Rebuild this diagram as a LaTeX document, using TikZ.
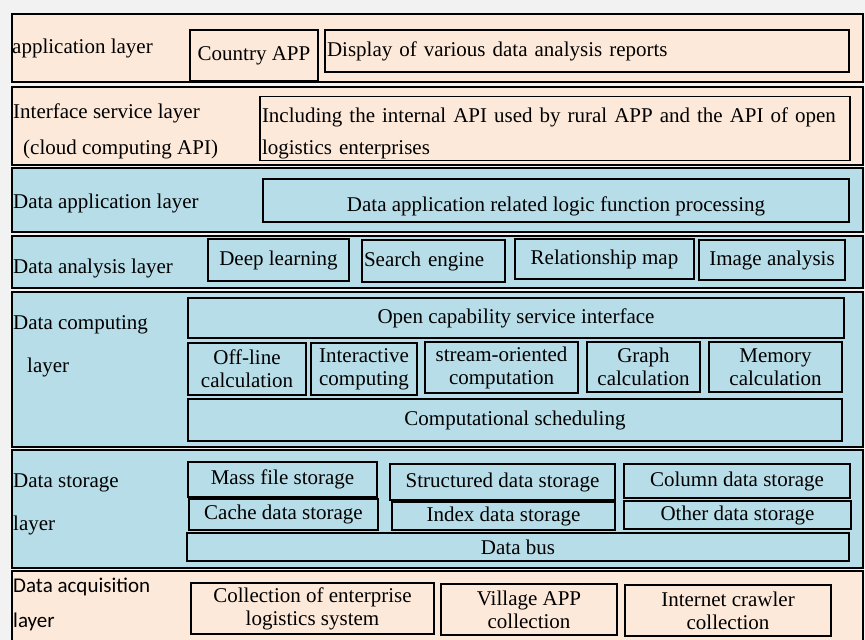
\documentclass[tikz,border=0pt]{standalone}
\usepackage{fontspec}
\setmainfont{Liberation Serif}
\newfontfamily\acqfont{Carlito}
\usepackage{tikz}

\definecolor{peach}{HTML}{FDE9D9}
\definecolor{skyblue}{HTML}{B7DDE8}
\definecolor{bggray}{HTML}{F2F2F2}

\begin{document}
\begin{tikzpicture}[x=1pt,y=-1pt,
	every node/.style={font=\fontsize{21}{23}\selectfont,inner sep=2pt},
	layer/.style={draw=black,line width=1.6pt,minimum width=851,inner sep=0pt},
	box/.style={draw=black,line width=1.1pt,align=center},
	lbl/.style={anchor=west,inner sep=0pt,align=left}]

		\useasboundingbox (0,0) rectangle (865,640);
		\fill[bggray] (0,0) rectangle (865,640);
		\clip (0,0) rectangle (865,640);

		%layers
		\node[layer,fill=peach,minimum height=68] (l1) at (437.5,48) {};
		\node[layer,fill=peach,minimum height=78] (l2) at (437.5,126) {};
		\node[layer,fill=skyblue,minimum height=64] (l3) at (437.5,200) {};
		\node[layer,fill=skyblue,minimum height=52] (l4) at (437.5,262) {};
		\node[layer,fill=skyblue,minimum height=155] (l5) at (437.5,369.5) {};
		\node[layer,fill=skyblue,minimum height=118] (l6) at (437.5,509) {};
		\node[layer,fill=peach,minimum height=75] (l7) at (437.5,608.5) {};

		%layer names
		\node[lbl] (t1) at (12,48) {application layer};
		\node[lbl] (t2a) at (13,113) {Interface service layer};
		\node[lbl] (t2b) at (23,149) {(cloud computing API)};
		\node[lbl] (t3) at (13,203) {Data application layer};
		\node[lbl] (t4) at (13,268) {Data analysis layer};
		\node[lbl] (t5a) at (13,325) {Data computing};
		\node[lbl] (t5b) at (27,367) {layer};
		\node[lbl] (t6a) at (13,483) {Data storage};
		\node[lbl] (t6b) at (13,525) {layer};
		\node[lbl,font=\acqfont\fontsize{21}{23}\selectfont] (t7a) at (13,587) {Data acquisition};
		\node[lbl,font=\acqfont\fontsize{21}{23}\selectfont] (t7b) at (13,622) {layer};

		%application layer
		\node[box,minimum width=128,minimum height=51] (capp) at (254,55.5) {Country APP};
		\node[box,text width=520,align=left,minimum height=42] (disp) at (587,51) {Display of various data analysis reports};

		%interface service layer
		\node[box,text width=586,align=left,minimum height=59,font=\fontsize{21}{32}\selectfont] (iface) at (555,128.5)
			{\rule{0pt}{24pt}Including the internal API used by rural APP and the API of open\\logistics enterprises};

		%data application layer
		\node[box,minimum width=586,minimum height=43] (dapp) at (556,200.5) {\rule{0pt}{26pt}Data application related logic function processing};

		%data analysis layer
		\node[box,minimum width=141,minimum height=42] (deep) at (278.5,260) {Deep learning};
		\node[box,text width=139,align=left,minimum height=42] (search) at (433.5,261) {Search engine};
		\node[box,minimum width=179,minimum height=40] (relmap) at (604.5,259) {Relationship map};
		\node[box,minimum width=146,minimum height=40] (image) at (772,260) {Image analysis};

		%data computing layer
		\node[box,minimum width=656,minimum height=40] (open) at (516,318) {Open capability service interface};
		\node[box,minimum width=118,minimum height=52] (offline) at (247,369) {Off-line\\calculation};
		\node[box,minimum width=106,minimum height=52] (inter) at (364,369) {Interactive\\computing};
		\node[box,minimum width=153,minimum height=51] (stream) at (501.5,367.5) {stream-oriented\\computation};
		\node[box,minimum width=113,minimum height=50] (graph) at (643.5,367) {Graph\\calculation};
		\node[box,minimum width=133,minimum height=50] (memory) at (775.5,367) {Memory\\calculation};
		\node[box,minimum width=654,minimum height=42] (sched) at (515,420) {Computational scheduling};

		%data storage layer
		\node[box,minimum width=189,minimum height=35] (mass) at (282.5,479.5) {Mass file storage};
		\node[box,minimum width=225,minimum height=36] (struct) at (502.5,482) {Structured data storage};
		\node[box,minimum width=226,minimum height=34] (column) at (737,481) {Column data storage};
		\node[box,minimum width=189,minimum height=31] (cache) at (283.5,514.5) {Cache data storage};
		\node[box,minimum width=223,minimum height=28] (index) at (503.5,516) {Index data storage};
		\node[box,minimum width=227,minimum height=28] (other) at (737.5,515) {Other data storage};
		\node[box,minimum width=662,minimum height=28] (bus) at (518,547) {Data bus};

		%data acquisition layer
		\node[box,minimum width=243,minimum height=51] (coll) at (312.5,608.5) {Collection of enterprise\\logistics system};
		\node[box,minimum width=176,minimum height=51] (vapp) at (529,609.5) {Village APP\\collection};
		\node[box,minimum width=206,minimum height=51] (crawl) at (728,610.5) {Internet crawler\\collection};

\end{tikzpicture}
\end{document}
